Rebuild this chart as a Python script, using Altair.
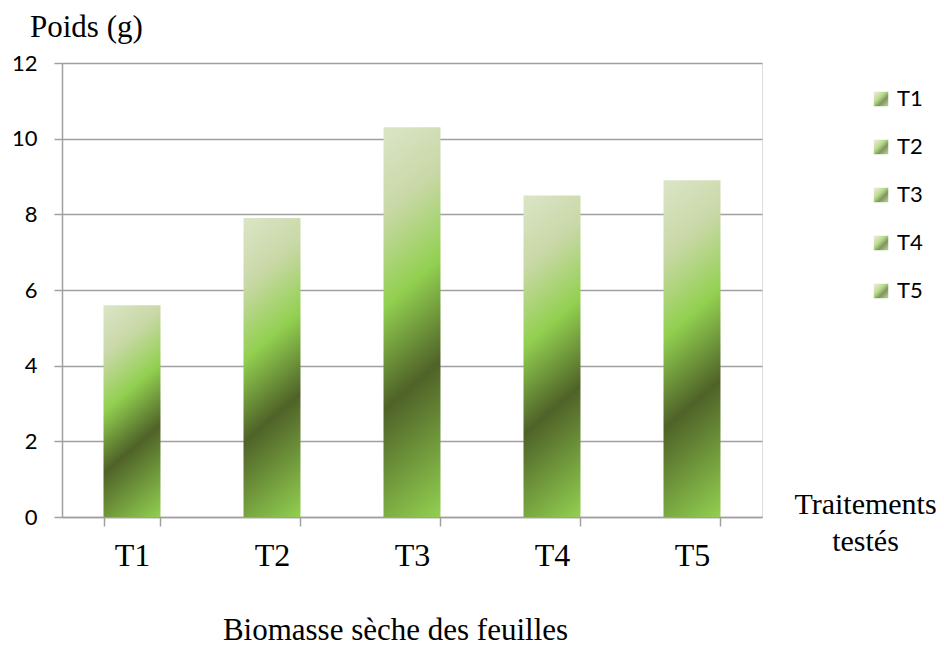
import altair as alt
import pandas as pd

categories = ["T1", "T2", "T3", "T4", "T5"]
values = [5.6, 7.9, 10.3, 8.5, 8.9]
y_ticks = [0, 2, 4, 6, 8, 10, 12]

df = pd.DataFrame({"cat": categories, "val": values})

W, H = 700, 454
BAR_W = 57
YMAX = 12

stops = [(0.0, "#dbe5c7"), (0.2, "#c9d8a7"), (0.41, "#92d050"), (0.645, "#4f6228"), (1.0, "#92d050")]


def bar_gradient(v):
    h = v * H / YMAX
    r = 0.85 * BAR_W / h
    b = (1 + r) / (1 + r * r)
    a = r * b
    return alt.LinearGradient(
        gradient="linear",
        x1=0, y1=0, x2=a, y2=b,
        stops=[alt.GradientStop(offset=o, color=c) for o, c in stops],
    )


stop_expr = ", ".join("{offset: %s, color: '%s'}" % (o, c) for o, c in stops)
legend_grad = alt.ExprRef(expr="{gradient: 'linear', x1: 0, y1: 0, x2: 1, y2: 1, stops: [" + stop_expr + "]}")

GRID = "#a0a0a0"

x_enc = alt.X(
    "cat:N",
    scale=alt.Scale(domain=categories, paddingInner=0.593, paddingOuter=0.2965),
    axis=alt.Axis(
        title="Biomasse sèche des feuilles",
        titleX=333, titleY=122, titleAlign="center", titleBaseline="alphabetic",
        titleFont="Liberation Serif", titleFontSize=31, titleFontWeight="normal", titleColor="black",
        labelFont="Liberation Serif", labelFontSize=32, labelColor="black", labelAngle=0,
        labelPadding=14, tickSize=9, tickBand="extent", tickColor=GRID, tickWidth=1.5,
        domainColor=GRID, domainWidth=1.5, grid=False,
    ),
)
y_enc = alt.Y(
    "val:Q",
    scale=alt.Scale(domain=[0, YMAX], nice=False),
    axis=alt.Axis(
        values=y_ticks,
        title=["Traitements", "testés"],
        titleX=803, titleY=450, titleAngle=0, titleAlign="center", titleBaseline="alphabetic",
        titleLineHeight=37,
        titleFont="Liberation Serif", titleFontSize=30, titleFontWeight="normal", titleColor="black",
        labelFont="Lato", labelFontSize=22, labelColor="black", labelPadding=17,
        tickSize=8, tickColor=GRID, tickWidth=1.5,
        domainColor=GRID, domainWidth=1.5,
        grid=True, gridColor=GRID, gridWidth=1.5,
    ),
)

base = alt.Chart(df).encode(x=x_enc, y=y_enc)

layers = []
for c, v in zip(categories, values):
    layers.append(
        base.transform_filter(alt.datum.cat == c).mark_bar(fill=bar_gradient(v))
    )

legend_layer = base.mark_square(size=0).encode(
    fill=alt.Fill(
        "cat:N",
        scale=alt.Scale(domain=categories, range=[legend_grad] * len(categories)),
        legend=alt.Legend(
            title=None, orient="none", legendX=808, legendY=25,
            symbolType="square", symbolSize=210, symbolStrokeWidth=0,
            labelFont="Lato", labelFontSize=22, labelColor="black",
            labelOffset=5, rowPadding=26, padding=0,
        ),
    )
)

chart = alt.layer(*layers, legend_layer).properties(
    width=W, height=H,
    autosize=alt.AutoSizeParams(type="none"),
    padding={"left": 54, "top": 55, "right": 174, "bottom": 131},
    title=alt.TitleParams(
        text="Poids (g)", orient="top", anchor="start", frame="group",
        font="Liberation Serif", fontSize=31, fontWeight="normal", color="black",
        dx=-32, offset=8,
    ),
).configure_view(strokeWidth=0).configure(background="white")

chart.save("out.html", embed_options={"renderer": "svg", "actions": False})
